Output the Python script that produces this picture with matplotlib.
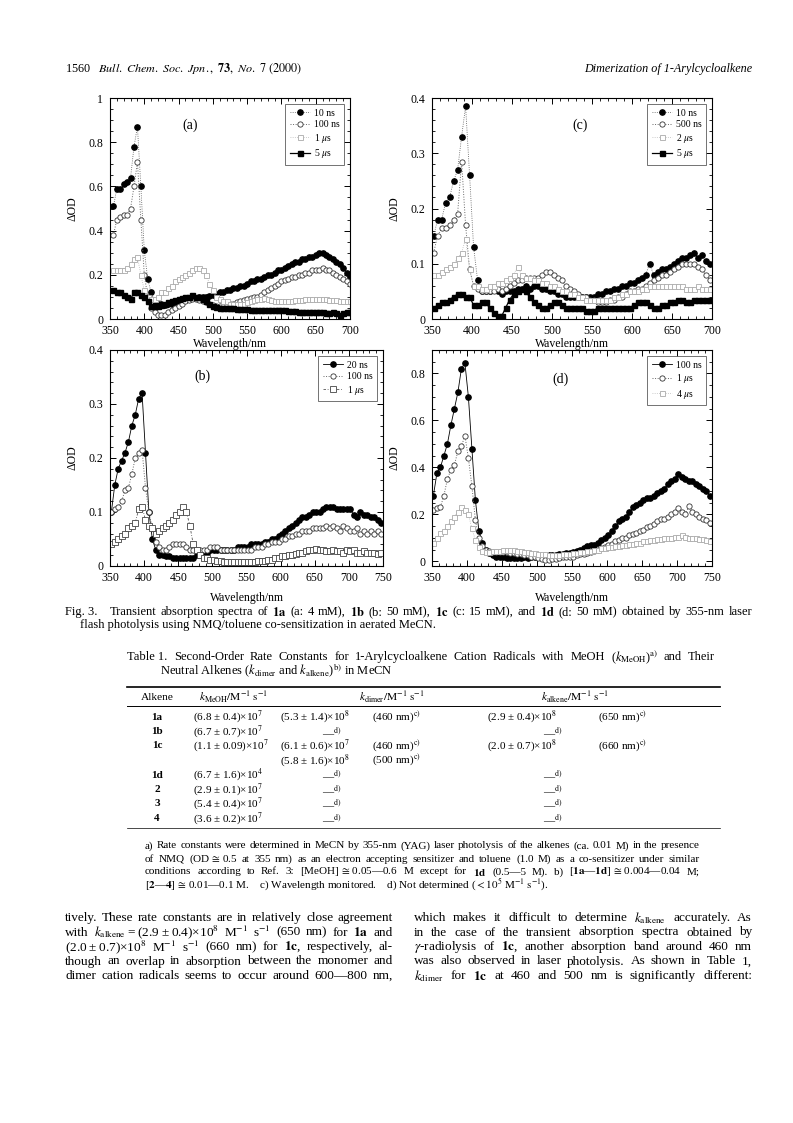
#!/usr/bin/env python3
"""
plot.py - page 1560 of Bull. Chem. Soc. Jpn. 73 (2000): Fig. 3 transient
absorption spectra (four panels), Table 1 and the text below it.
"""
import matplotlib
matplotlib.use("Agg")
import matplotlib.pyplot as plt
from matplotlib.lines import Line2D
from matplotlib.ticker import MultipleLocator, FuncFormatter

# ── Style ──────────────────────────────────────────────────────────────────────
plt.rcParams.update({
    'font.family': ['Liberation Serif', 'DejaVu Serif'],
    'mathtext.fontset': 'stix',
    'font.size': 8,
    'axes.linewidth': 0.8,
})
W, H = 793, 1123

# ── Data (ΔOD) ────────────────────────────────────────────────────────────────
# panel (a): 1a, 4 mM
WL_A = list(range(355, 701, 5))
A_10NS = [.51, .59, .59, .61, .62, .64, .78, .87, .60, .31,
          .18, .12, .08, .07, .07, .065, .07, .07, .075, .08,
          .085, .09, .09, .095, .095, .10, .10, .10, .105, .11,
          .115, .12, .12, .13, .13, .14, .14, .15, .15, .16,
          .17, .17, .18, .18, .19, .20, .20, .21, .22, .22,
          .23, .24, .25, .26, .26, .27, .27, .28, .28, .29,
          .30, .30, .29, .28, .27, .26, .25, .23, .21, .19]
A_100NS = [.38, .45, .46, .47, .47, .50, .60, .71, .45, .20,
           .10, .05, .03, .02, .02, .02, .03, .04, .05, .06,
           .07, .08, .085, .09, .09, .085, .08, .075, .07, .065,
           .06, .06, .06, .065, .07, .07, .075, .08, .085, .09,
           .095, .10, .10, .11, .12, .13, .14, .15, .16, .17,
           .175, .18, .19, .19, .20, .20, .21, .21, .22, .22,
           .22, .23, .22, .22, .21, .20, .19, .18, .17, .16]
A_1US = [.22, .22, .22, .22, .23, .25, .27, .28, .20, .13,
         .10, .09, .09, .10, .12, .12, .14, .15, .17, .18,
         .19, .20, .21, .22, .23, .23, .22, .20, .16, .13,
         .10, .09, .08, .08, .07, .07, .07, .07, .07, .075,
         .08, .085, .09, .09, .095, .09, .085, .08, .08, .08,
         .08, .08, .08, .085, .085, .085, .09, .09, .09, .09,
         .09, .09, .09, .085, .085, .085, .08, .08, .08, .08]
A_5US = [.13, .12, .12, .11, .10, .09, .12, .12, .11, .10,
         .08, .06, .06, .06, .065, .07, .075, .08, .085, .09,
         .095, .10, .10, .11, .10, .10, .09, .08, .07, .06,
         .055, .05, .05, .05, .05, .05, .045, .045, .045, .045,
         .04, .04, .04, .04, .04, .04, .04, .04, .04, .04,
         .04, .035, .035, .035, .03, .03, .03, .03, .03, .03,
         .03, .03, .025, .025, .03, .025, .02, .025, .03, .03]

# panel (c): 1c, 15 mM
WL_C = list(range(352, 700, 5))
C_10NS = [.15, .18, .18, .21, .22, .25, .27, .33, .385, .26,
          .13, .07, .05, .05, .05, .055, .05, .045, .05, .05,
          .05, .055, .055, .06, .055, .06, .06, .055, .055, .05,
          .05, .045, .045, .04, .04, .04, .04, .04, .04, .04,
          .04, .045, .045, .05, .05, .055, .055, .06, .06, .065,
          .065, .07, .075, .08, .10, .08, .085, .09, .09, .095,
          .10, .105, .11, .11, .115, .12, .11, .115, .105, .10]
C_500NS = [.12, .15, .165, .165, .17, .18, .19, .285, .17, .09,
           .06, .055, .05, .05, .05, .05, .055, .05, .055, .06,
           .065, .07, .07, .075, .075, .075, .075, .08, .085, .085,
           .08, .075, .07, .06, .055, .05, .045, .04, .04, .035,
           .035, .03, .03, .03, .035, .035, .04, .04, .045, .05,
           .05, .055, .055, .06, .065, .07, .075, .08, .08, .085,
           .09, .095, .10, .10, .10, .10, .095, .09, .08, .07]
C_2US = [.08, .08, .085, .09, .095, .10, .11, .12, .145, .09,
         .06, .06, .055, .055, .06, .06, .065, .065, .07, .075,
         .08, .095, .08, .075, .075, .07, .07, .065, .065, .06,
         .06, .055, .05, .05, .045, .045, .04, .04, .035, .035,
         .035, .035, .035, .035, .035, .04, .04, .045, .045, .05,
         .05, .05, .055, .055, .06, .06, .06, .06, .06, .06,
         .06, .06, .06, .055, .055, .055, .06, .055, .055, .055]
C_5US = [.02, .025, .03, .03, .035, .04, .045, .045, .04, .04,
         .025, .025, .03, .03, .02, .01, .005, .005, .02, .035,
         .045, .05, .055, .05, .04, .03, .025, .02, .02, .025,
         .03, .03, .025, .02, .02, .02, .02, .02, .015, .015,
         .015, .02, .02, .02, .02, .02, .02, .02, .02, .02,
         .025, .03, .03, .03, .025, .02, .02, .025, .025, .03,
         .03, .035, .035, .03, .03, .035, .035, .035, .035, .035]

# panel (b): 1b, 50 mM
WL_B = list(range(352, 750, 5))
B_20NS = [.10, .15, .18, .195, .21, .23, .26, .28, .31, .32,
          .21, .10, .05, .03, .02, .02, .018, .018, .015, .015,
          .015, .015, .015, .015, .015, .02, .02, .025, .025, .03,
          .03, .03, .03, .03, .03, .03, .03, .035, .035, .035,
          .035, .04, .04, .04, .04, .045, .045, .05, .05, .055,
          .06, .065, .07, .075, .08, .085, .09, .09, .095, .10,
          .10, .10, .105, .11, .11, .11, .105, .105, .105, .105,
          .105, .095, .09, .10, .095, .095, .09, .09, .085, .08]
B_100NS = [.10, .105, .11, .12, .14, .145, .17, .20, .21, .215,
           .145, .10, .07, .045, .035, .03, .03, .035, .04, .04,
           .04, .04, .035, .03, .03, .03, .03, .03, .03, .035,
           .035, .035, .03, .03, .03, .03, .03, .03, .03, .03,
           .03, .03, .035, .035, .035, .04, .04, .045, .045, .045,
           .05, .05, .055, .055, .06, .06, .065, .065, .065, .07,
           .07, .07, .07, .075, .07, .075, .07, .065, .075, .07,
           .065, .065, .07, .06, .065, .06, .065, .06, .065, .06]
B_1US = [.04, .045, .05, .055, .06, .07, .075, .08, .105, .11,
         .085, .075, .07, .06, .065, .07, .075, .08, .085, .095,
         .10, .11, .10, .075, .04, .03, .02, .015, .015, .012,
         .012, .01, .01, .008, .008, .008, .008, .008, .008, .008,
         .008, .008, .008, .01, .01, .01, .012, .012, .015, .015,
         .018, .018, .02, .02, .022, .025, .025, .028, .03, .03,
         .032, .03, .03, .028, .028, .03, .028, .028, .025, .03,
         .028, .03, .025, .025, .028, .025, .025, .025, .022, .025]

# panel (d): 1d, 50 mM
WL_D = list(range(352, 750, 5))
D_100NS = [.28, .375, .40, .45, .50, .58, .65, .72, .82, .845,
           .70, .48, .26, .13, .08, .05, .035, .025, .02, .02,
           .02, .015, .015, .015, .015, .015, .02, .015, .02, .02,
           .02, .02, .02, .025, .025, .025, .03, .03, .035, .035,
           .04, .045, .05, .055, .065, .07, .07, .08, .09, .10,
           .11, .13, .15, .17, .18, .19, .21, .23, .24, .25,
           .26, .27, .27, .28, .29, .30, .31, .33, .34, .35,
           .37, .36, .35, .34, .34, .33, .32, .31, .30, .28]
D_1US = [.22, .225, .23, .28, .35, .39, .41, .47, .49, .535,
         .44, .32, .175, .10, .065, .05, .045, .04, .04, .04,
         .04, .04, .035, .035, .03, .03, .025, .025, .02, .02,
         .015, .01, .005, .005, .01, .01, .015, .02, .02, .02,
         .02, .025, .03, .03, .035, .04, .045, .05, .055, .06,
         .07, .075, .085, .09, .10, .10, .11, .115, .12, .13,
         .135, .145, .15, .16, .17, .18, .18, .19, .20, .21,
         .225, .21, .20, .235, .21, .20, .19, .18, .175, .165]
D_4US = [.08, .10, .12, .13, .15, .17, .19, .21, .23, .22,
         .20, .14, .09, .06, .045, .04, .04, .045, .045, .045,
         .05, .05, .05, .05, .045, .045, .04, .04, .035, .035,
         .03, .03, .03, .025, .025, .025, .025, .03, .03, .03,
         .035, .035, .04, .04, .045, .045, .05, .05, .055, .055,
         .06, .06, .065, .065, .07, .07, .075, .075, .08, .08,
         .085, .085, .09, .09, .095, .095, .10, .10, .10, .105,
         .105, .11, .105, .10, .10, .10, .095, .095, .09, .085]

# ── Marker styles ──────────────────────────────────────────────────────────────
STYLES = {
    'fill_o':  dict(marker='o', ms=3.8, mfc='black', mec='black', ls='-', lw=0.6, color='black'),
    'fill_od': dict(marker='o', ms=3.8, mfc='black', mec='black', ls=':', lw=0.6, color='#555555'),
    'open_o':  dict(marker='o', ms=3.8, mfc='white', mec='#333333', mew=0.6, ls=':', lw=0.7, color='#666666'),
    'open_s':  dict(marker='s', ms=3.6, mfc='white', mec='#aaaaaa', mew=0.6, ls=':', lw=0.6, color='#bbbbbb'),
    'open_sd': dict(marker='s', ms=3.8, mfc='white', mec='#444444', mew=0.6, ls=(0, (3, 2, 1, 2)), lw=0.6, color='#555555'),
    'fill_s':  dict(marker='s', ms=3.6, mfc='black', mec='black', ls='-', lw=0.9, color='black'),
}


def px_axes(fig, left, top, right, bottom):
    return fig.add_axes([left / W, 1 - bottom / H, (right - left) / W, (bottom - top) / H])


def style_axes(ax, xlim, ylim, ymaj, ymin, xpad=2):
    ax.set_xlim(*xlim)
    ax.set_ylim(*ylim)
    ax.xaxis.set_major_locator(MultipleLocator(50))
    ax.xaxis.set_minor_locator(MultipleLocator(10))
    ax.yaxis.set_major_locator(MultipleLocator(ymaj))
    ax.yaxis.set_minor_locator(MultipleLocator(ymin))
    ax.yaxis.set_major_formatter(FuncFormatter(lambda v, p: f'{v:g}'))
    ax.tick_params(which='both', direction='in', top=True, right=True, labelsize=8.5)
    ax.tick_params(axis='x', pad=4)
    ax.tick_params(axis='y', pad=5)
    ax.tick_params(which='major', length=4, width=0.7)
    ax.tick_params(which='minor', length=2, width=0.6)
    ax.set_xlabel('Wavelength/nm', fontsize=8.5, labelpad=xpad)
    ax.set_ylabel('ΔOD', fontsize=8.5, labelpad=7)


def panel(ax, wl, series, tag, tagpos):
    for vals, kind, label in series:
        ax.plot(wl, vals, label=label, **STYLES[kind])
    ax.text(tagpos[0], tagpos[1], tag, transform=ax.transAxes, fontsize=10)
    leg = ax.legend(loc='upper right', fontsize=7, frameon=True, fancybox=False,
                    edgecolor='#333333', borderpad=0.5, labelspacing=0.25,
                    handlelength=2.0, handletextpad=0.4, borderaxespad=0.6)
    leg.get_frame().set_linewidth(0.6)


fig = plt.figure(figsize=(W / 100, H / 100), dpi=100)
renderer = fig.canvas.get_renderer()

# ── Figure 3 panels ────────────────────────────────────────────────────────────
ax_a = px_axes(fig, 110, 98, 350, 319)
panel(ax_a, WL_A, [(A_10NS, 'fill_od', '10 ns'), (A_100NS, 'open_o', '100 ns'),
                   (A_1US, 'open_s', r'1 $\mu$s'), (A_5US, 'fill_s', r'5 $\mu$s')],
      '(a)', (0.30, 0.86))
style_axes(ax_a, (350, 700), (0, 1), 0.2, 0.05, xpad=1)

ax_c = px_axes(fig, 432, 98, 712, 319)
panel(ax_c, WL_C, [(C_10NS, 'fill_od', '10 ns'), (C_500NS, 'open_o', '500 ns'),
                   (C_2US, 'open_s', r'2 $\mu$s'), (C_5US, 'fill_s', r'5 $\mu$s')],
      '(c)', (0.50, 0.86))
style_axes(ax_c, (350, 700), (0, 0.4), 0.1, 0.02, xpad=1)

ax_b = px_axes(fig, 110, 350, 383, 566)
panel(ax_b, WL_B, [(B_20NS, 'fill_o', '20 ns'), (B_100NS, 'open_o', '100 ns'),
                   (B_1US, 'open_sd', r'1 $\mu$s')],
      '(b)', (0.31, 0.86))
style_axes(ax_b, (350, 750), (0, 0.4), 0.1, 0.02, xpad=6)

ax_d = px_axes(fig, 432, 350, 712, 566)
panel(ax_d, WL_D, [(D_100NS, 'fill_o', '100 ns'), (D_1US, 'open_o', r'1 $\mu$s'),
                   (D_4US, 'open_s', r'4 $\mu$s')],
      '(d)', (0.43, 0.85))
style_axes(ax_d, (350, 750), (-0.02, 0.9), 0.2, 0.05, xpad=6)


def T(x, y, s, size=8.5, **kw):
    return fig.text(x / W, 1 - y / H, s, fontsize=size, va='center', **kw)


def split_words(s):
    """Split on spaces that are not inside $...$ math."""
    words, cur, inmath = [], '', False
    for ch in s:
        if ch == '$':
            inmath = not inmath
        if ch == ' ' and not inmath:
            if cur:
                words.append(cur)
            cur = ''
        else:
            cur += ch
    if cur:
        words.append(cur)
    return words


def J(x0, x1, y, s, size, **kw):
    """Full-justify one line of words between x0 and x1 (pixels)."""
    words = split_words(s)
    texts = [T(0, y, w, size, **kw) for w in words]
    widths = [t.get_window_extent(renderer).width for t in texts]
    gap = (x1 - x0 - sum(widths)) / max(len(words) - 1, 1)
    x = x0
    for t, w in zip(texts, widths):
        t.set_x(x / W)
        x += w + gap


def rule(x0, x1, y, lw=0.8):
    fig.add_artist(Line2D([x0 / W, x1 / W], [1 - y / H, 1 - y / H], lw=lw,
                          color='black', transform=fig.transFigure))


# ── Running header ─────────────────────────────────────────────────────────────
T(65, 69, r'1560   $\mathit{Bull.\ Chem.\ Soc.\ Jpn.},\ \mathbf{73},\ \mathit{No.\ 7\ (2000)}$', 8.7)
T(752, 69, 'Dimerization of 1-Arylcycloalkene', 8.7, ha='right', style='italic')

# ── Figure caption ─────────────────────────────────────────────────────────────
T(65, 612, 'Fig. 3.', 9.0)
J(110, 752, 612, r'Transient absorption spectra of $\mathbf{1a}$ (a: 4 mM), $\mathbf{1b}$ (b: 50 mM), '
                 r'$\mathbf{1c}$ (c: 15 mM), and $\mathbf{1d}$ (d: 50 mM) obtained by 355-nm laser', 9.0)
T(80, 625, 'flash photolysis using NMQ/toluene co-sensitization in aerated MeCN.', 9.0)

# ── Table 1 ────────────────────────────────────────────────────────────────────
T(127, 657, 'Table 1.', 9.0)
J(174, 715, 657, r'Second-Order Rate Constants for 1-Arylcycloalkene Cation Radicals with MeOH '
                 r'($k_{\rm MeOH}$)$^{\rm a)}$ and Their', 9.0)
T(160, 671, r'Neutral Alkenes ($k_{\rm dimer}$ and $k_{\rm alkene}$)$^{\rm b)}$ in MeCN', 9.0)

ALKENES = ['1a', '1b', '1c', '', '1d', '2', '3', '4']
K_MEOH = ['(6.8 ± 0.4)×10$^{7}$', '(6.7 ± 0.7)×10$^{7}$', '(1.1 ± 0.09)×10$^{7}$', '',
          '(6.7 ± 1.6)×10$^{4}$', '(2.9 ± 0.1)×10$^{7}$', '(5.4 ± 0.4)×10$^{7}$',
          '(3.6 ± 0.2)×10$^{7}$']
K_DIMER = ['(5.3 ± 1.4)×10$^{8}$', None, '(6.1 ± 0.6)×10$^{7}$',
           '(5.8 ± 1.6)×10$^{8}$', None, None, None, None]
K_DIMER_NM = ['(460 nm)$^{\\rm c)}$', '', '(460 nm)$^{\\rm c)}$', '(500 nm)$^{\\rm c)}$', '', '', '', '']
K_ALKENE = ['(2.9 ± 0.4)×10$^{8}$', None, '(2.0 ± 0.7)×10$^{8}$', '', None, None, None, None]
K_ALKENE_NM = ['(650 nm)$^{\\rm c)}$', '', '(660 nm)$^{\\rm c)}$', '', '', '', '', '']
ROW_Y = [717, 731.5, 746, 760.5, 775, 789.5, 804, 818.5]

rule(127, 720, 687, lw=1.2)
T(157, 697, 'Alkene', 8.2, ha='center')
T(234, 697, r'$k_{\rm MeOH}/{\rm M}^{-1}\ {\rm s}^{-1}$', 8.2, ha='center')
T(392, 697, r'$k_{\rm dimer}/{\rm M}^{-1}\ {\rm s}^{-1}$', 8.2, ha='center')
T(575, 697, r'$k_{\rm alkene}/{\rm M}^{-1}\ {\rm s}^{-1}$', 8.2, ha='center')
rule(127, 720, 706, lw=0.7)
DASH = r'—$^{\rm d)}$'
for y, alk, km, kd, kdn, ka, kan in zip(ROW_Y, ALKENES, K_MEOH, K_DIMER, K_DIMER_NM, K_ALKENE, K_ALKENE_NM):
    cells = [(157, alk, dict(ha='center', weight='bold')), (193, km, {}),
             (280, kd, {}) if kd is not None else (322, DASH, {}),
             (372, kdn, {}),
             (487, ka, {}) if ka is not None else (543, DASH, {}),
             (598, kan, {})]
    for x, s, kw in cells:
        if s:
            T(x, y, s, 8.0, **kw)
rule(127, 720, 828, lw=0.5)

# ── Table footnotes ────────────────────────────────────────────────────────────
FOOT = [
    'a) Rate constants were determined in MeCN by 355-nm (YAG) laser photolysis of the alkenes (ca. 0.01 M) in the presence',
    r'of NMQ (OD$\,\cong\,$0.5 at 355 nm) as an electron accepting sensitizer and toluene (1.0 M) as a co-sensitizer under similar',
    r'conditions according to Ref. 3: [MeOH]$\,\cong\,$0.05—0.6 M except for $\mathbf{1d}$ (0.5—5 M).   '
    r'b) [$\mathbf{1a}$—$\mathbf{1d}$]$\,\cong\,$0.004—0.04 M;',
]
FOOT_LAST = (r'[$\mathbf{2}$—$\mathbf{4}$]$\,\cong\,$0.01—0.1 M.    c) Wavelength monitored.    '
             r'd) Not determined ($<10^{5}\ {\rm M}^{-1}\ {\rm s}^{-1}$).')
for i, line in enumerate(FOOT):
    J(145, 700, 846 + 13 * i, line, 8.0)
T(145, 846 + 13 * 3, FOOT_LAST, 8.0)

# ── Body text (two columns) ────────────────────────────────────────────────────
THIN = '\u2009'
LEFT_COL = [
    'tively. These rate constants are in relatively close agreement',
    f'with $k_{{\\rm alkene}}${THIN}={THIN}(2.9{THIN}±{THIN}0.4)×10$^8$ M$^{{-1}}$ s$^{{-1}}$ (650 nm) for $\\mathbf{{1a}}$ and',
    f'(2.0{THIN}±{THIN}0.7)×10$^8$ M$^{{-1}}$ s$^{{-1}}$ (660 nm) for $\\mathbf{{1c}}$, respectively, al-',
    'though an overlap in absorption between the monomer and',
    'dimer cation radicals seems to occur around 600—800 nm,',
]
RIGHT_COL = [
    r'which makes it difficult to determine $k_{\rm alkene}$ accurately. As',
    'in the case of the transient absorption spectra obtained by',
    r'$\gamma$-radiolysis of $\mathbf{1c}$, another absorption band around 460 nm',
    'was also observed in laser photolysis. As shown in Table 1,',
    r'$k_{\rm dimer}$ for $\mathbf{1c}$ at 460 and 500 nm is significantly different:',
]
BODY_Y = [918, 932.5, 947, 961.5, 976]
for y, l, r in zip(BODY_Y, LEFT_COL, RIGHT_COL):
    J(65, 393, y, l, 9.5)
    J(414, 752, y, r, 9.5)

fig.savefig('out.png', dpi=100)
plt.close(fig)
